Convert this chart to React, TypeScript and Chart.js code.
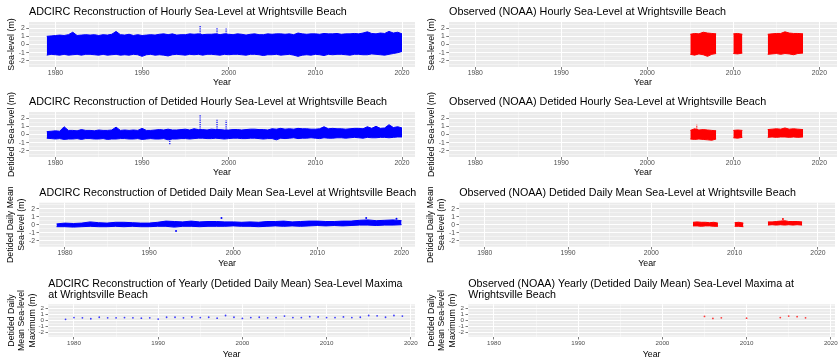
import React, { useEffect, useRef } from "react";
import { Chart, registerables } from "chart.js";
Chart.register(...registerables);

const FONT = '"Liberation Sans", Arial, Helvetica, sans-serif';
const BLUE = "#0000FF";
const RED = "#FF0000";

// ---------------- DATA ----------------
// half-year sampling of the hourly envelopes, 1979.0 .. 2020.0
const adcircHalfYears = [1979,1979.5,1980,1980.5,1981,1981.5,1982,1982.5,1983,1983.5,1984,1984.5,1985,1985.5,1986,1986.5,1987,1987.5,1988,1988.5,1989,1989.5,1990,1990.5,1991,1991.5,1992,1992.5,1993,1993.5,1994,1994.5,1995,1995.5,1996,1996.5,1997,1997.5,1998,1998.5,1999,1999.5,2000,2000.5,2001,2001.5,2002,2002.5,2003,2003.5,2004,2004.5,2005,2005.5,2006,2006.5,2007,2007.5,2008,2008.5,2009,2009.5,2010,2010.5,2011,2011.5,2012,2012.5,2013,2013.5,2014,2014.5,2015,2015.5,2016,2016.5,2017,2017.5,2018,2018.5,2019,2019.5,2020];

// hourly sea-level envelope (m)
const adcircHourlyHigh = [1.0,1.05,1.1,1.15,1.1,1.2,1.5,1.1,1.15,1.2,1.15,1.2,1.1,1.2,1.15,1.25,1.6,1.2,1.15,1.25,1.1,1.2,1.1,1.15,1.2,1.15,1.25,1.3,1.2,1.3,1.15,1.2,1.2,1.3,1.25,1.3,1.2,1.25,1.25,1.3,1.2,1.3,1.25,1.2,1.3,1.25,1.15,1.25,1.3,1.2,1.2,1.3,1.25,1.3,1.3,1.25,1.3,1.2,1.4,1.3,1.25,1.3,1.3,1.25,1.35,1.3,1.3,1.35,1.25,1.3,1.3,1.35,1.3,1.4,1.55,1.35,1.3,1.4,1.35,1.6,1.4,1.5,1.3];
const adcircHourlyLow = [-1.3,-1.2,-1.25,-1.3,-1.2,-1.3,-1.25,-1.2,-1.3,-1.2,-1.2,-1.25,-1.3,-1.2,-1.3,-1.25,-1.2,-1.3,-1.25,-1.3,-1.2,-1.25,-1.45,-1.25,-1.2,-1.3,-1.25,-1.3,-1.4,-1.25,-1.2,-1.25,-1.3,-1.2,-1.25,-1.2,-1.3,-1.2,-1.2,-1.25,-1.3,-1.2,-1.25,-1.2,-1.2,-1.25,-1.3,-1.2,-1.2,-1.25,-1.35,-1.25,-1.25,-1.2,-1.3,-1.25,-1.2,-1.3,-1.45,-1.3,-1.25,-1.3,-1.2,-1.25,-1.35,-1.2,-1.25,-1.2,-1.2,-1.25,-1.3,-1.2,-1.2,-1.25,-1.25,-1.15,-1.2,-1.25,-1.3,-1.2,-1.1,-1.0,-0.85];
const adcircHourlySpikeYears = [1996.7, 1998.65, 1999.7];
const adcircHourlySpikeBase = [1.3, 1.3, 1.3];
const adcircHourlySpikePeak = [2.35, 2.05, 1.95];

// detided hourly envelope (m)
const adcircDetidedHigh = [0.35,0.4,0.45,0.4,0.95,0.5,0.5,0.45,0.6,0.5,0.5,0.45,0.55,0.5,0.5,0.55,0.9,0.5,0.55,0.5,0.55,0.5,0.75,0.5,0.5,0.55,0.6,0.55,0.65,0.55,0.55,0.6,0.65,0.55,0.7,0.6,0.6,0.55,0.65,0.6,0.6,0.55,0.55,0.6,0.6,0.55,0.6,0.65,0.65,0.6,0.6,0.55,0.7,0.65,0.75,0.65,0.7,0.65,0.75,0.7,0.7,0.65,0.65,0.7,0.95,0.7,0.75,0.7,0.7,0.65,0.7,0.75,0.75,0.7,0.95,0.75,1.0,0.75,0.8,1.2,0.85,0.95,0.8];
const adcircDetidedLow = [-0.45,-0.5,-0.55,-0.5,-0.6,-0.55,-0.55,-0.5,-0.6,-0.5,-0.5,-0.55,-0.55,-0.5,-0.6,-0.55,-0.55,-0.5,-0.5,-0.55,-0.55,-0.5,-0.6,-0.55,-0.5,-0.55,-0.55,-0.5,-0.65,-0.55,-0.55,-0.5,-0.5,-0.55,-0.5,-0.45,-0.45,-0.5,-0.5,-0.45,-0.5,-0.55,-0.5,-0.45,-0.45,-0.5,-0.5,-0.45,-0.45,-0.5,-0.55,-0.5,-0.5,-0.65,-0.45,-0.5,-0.45,-0.4,-0.5,-0.45,-0.45,-0.4,-0.45,-0.5,-0.4,-0.45,-0.45,-0.4,-0.4,-0.45,-0.4,-0.35,-0.4,-0.45,-0.35,-0.4,-0.4,-0.35,-0.35,-0.4,-0.35,-0.3,-0.3];
const adcircDetidedSpikeYears = [1993.2, 1996.7, 1998.65, 1999.7];
const adcircDetidedSpikeBase = [-0.5, 0.6, 0.6, 0.6];
const adcircDetidedSpikePeak = [-1.25, 2.45, 1.8, 1.75];

// detided daily mean envelope (m), yearly sampling 1979 .. 2020
const adcircYears = [1979,1980,1981,1982,1983,1984,1985,1986,1987,1988,1989,1990,1991,1992,1993,1994,1995,1996,1997,1998,1999,2000,2001,2002,2003,2004,2005,2006,2007,2008,2009,2010,2011,2012,2013,2014,2015,2016,2017,2018,2019,2020];
const adcircDailyHigh = [0.1,0.2,0.15,0.2,0.35,0.25,0.2,0.3,0.3,0.25,0.2,0.2,0.3,0.45,0.4,0.35,0.45,0.35,0.4,0.4,0.35,0.35,0.3,0.35,0.3,0.4,0.4,0.45,0.35,0.4,0.45,0.45,0.4,0.4,0.45,0.45,0.55,0.6,0.5,0.55,0.6,0.5];
const adcircDailyLow = [-0.25,-0.25,-0.3,-0.25,-0.2,-0.25,-0.25,-0.2,-0.25,-0.2,-0.25,-0.25,-0.2,-0.2,-0.3,-0.2,-0.2,-0.25,-0.2,-0.2,-0.2,-0.15,-0.2,-0.2,-0.25,-0.2,-0.15,-0.2,-0.15,-0.2,-0.15,-0.1,-0.15,-0.1,-0.15,-0.1,-0.05,-0.05,-0.1,-0.05,-0.05,0.0];
const adcircDailyOutlierYears = [1993.2, 1998.6, 2015.8, 2019.4];
const adcircDailyOutlierValues = [-0.8, 0.85, 0.85, 0.75];

// yearly maxima
const adcircMaxYears = [1979,1980,1981,1982,1983,1984,1985,1986,1987,1988,1989,1990,1991,1992,1993,1994,1995,1996,1997,1998,1999,2000,2001,2002,2003,2004,2005,2006,2007,2008,2009,2010,2011,2012,2013,2014,2015,2016,2017,2018,2019];
const adcircMaxValues = [0.2,0.5,0.45,0.3,0.55,0.45,0.45,0.5,0.45,0.4,0.45,0.25,0.55,0.55,0.45,0.6,0.5,0.55,0.4,0.85,0.55,0.35,0.5,0.55,0.45,0.5,0.75,0.5,0.5,0.65,0.6,0.5,0.5,0.6,0.5,0.55,0.85,0.8,0.55,0.85,0.75];

// NOAA observations (null = gap between record segments)
const noaaYears = [2005,2005.5,2006,2006.5,2007,2007.5,2008,null,2010,2010.5,2011.05,null,2014,2014.5,2015,2015.5,2016,2016.5,2017,2017.5,2018.1];
const noaaHourlyHigh = [1.25,1.35,1.3,1.5,1.4,1.35,1.3,null,1.3,1.35,1.25,null,1.25,1.3,1.35,1.35,1.55,1.4,1.35,1.35,1.3];
const noaaHourlyLow = [-1.2,-1.3,-1.15,-1.25,-1.45,-1.2,-1.1,null,-1.1,-1.15,-1.05,null,-1.2,-1.15,-1.1,-1.2,-1.1,-1.15,-1.25,-1.1,-1.05];
const noaaDetidedHigh = [0.5,0.7,0.55,0.6,0.55,0.5,0.45,null,0.5,0.55,0.5,null,0.6,0.65,0.7,0.65,0.8,0.65,0.7,0.65,0.6];
const noaaDetidedLow = [-0.55,-0.6,-0.55,-0.6,-0.65,-0.7,-0.55,null,-0.4,-0.45,-0.35,null,-0.35,-0.3,-0.35,-0.3,-0.3,-0.35,-0.3,-0.35,-0.3];
const noaaDetidedSpikeYears = [2005.75];
const noaaDetidedSpikeBase = [0.6];
const noaaDetidedSpikePeak = [1.2];
const noaaDailyHigh = [0.3,0.35,0.3,0.3,0.25,0.3,0.2,null,0.25,0.3,0.2,null,0.35,0.35,0.4,0.45,0.5,0.4,0.4,0.4,0.35];
const noaaDailyLow = [-0.15,-0.15,-0.2,-0.15,-0.15,-0.2,-0.2,null,-0.2,-0.2,-0.25,null,-0.05,0,-0.05,0,-0.05,0,-0.05,0,-0.05];
const noaaDailyOutlierYears = [2015.8];
const noaaDailyOutlierValues = [0.7];
const noaaMaxYears = [2005, 2006, 2007, 2010, 2014, 2015, 2016, 2017];
const noaaMaxValues = [0.7, 0.35, 0.45, 0.4, 0.5, 0.75, 0.65, 0.45];

// axis ticks
const xTickValues = [1980, 1985, 1990, 1995, 2000, 2005, 2010, 2015, 2020];
const xLabelValues = [1980, 1990, 2000, 2010, 2020];
const yTickValues = [-2.5, -2, -1.5, -1, -0.5, 0, 0.5, 1, 1.5, 2, 2.5];
const yLabelValues = [-2, -1, 0, 1, 2];
const yMin = -2.75;
const yMax = 2.75;
const xMin = 1976.95;

// ---------------- DATASET BUILDERS ----------------
function band(xs: (number | null)[], hi: (number | null)[], lo: (number | null)[], color: string) {
  const out: any[] = [];
  let seg: number[] = [];
  const flush = () => {
    if (!seg.length) return;
    out.push({
      data: seg.map((i) => ({ x: xs[i], y: hi[i] })),
      borderColor: color, borderWidth: 1, pointRadius: 0, fill: false, tension: 0,
    });
    out.push({
      data: seg.map((i) => ({ x: xs[i], y: lo[i] })),
      borderColor: color, borderWidth: 1, pointRadius: 0, fill: "-1", backgroundColor: color, tension: 0,
    });
    seg = [];
  };
  xs.forEach((x, i) => {
    if (x === null || hi[i] === null) flush();
    else seg.push(i);
  });
  flush();
  return out;
}

function spikes(xs: number[], base: number[], peak: number[], color: string) {
  return xs.map((x, i) => ({
    data: [{ x, y: base[i] }, { x, y: peak[i] }],
    borderColor: color, borderWidth: 1.2, borderDash: [1.2, 1], pointRadius: 0, fill: false,
  }));
}

function points(xs: number[], ys: number[], color: string, r: number) {
  return [{
    data: xs.map((x, i) => ({ x, y: ys[i] })),
    showLine: false, pointRadius: r, pointBackgroundColor: color, pointBorderWidth: 0, borderColor: color,
  }];
}

// ---------------- PANELS ----------------
type Spec = {
  x: number; y: number; w: number; h: number;
  l: number; t: number; r: number; b: number;
  xMax: number;
  title: string[]; titleBase: number[]; titleSize: number;
  yTitle: string[]; yTitleX: number[];
  xTitleY: number;
  tickSize: number; xTickPad: number;
  datasets: () => any[];
};

const TITLE_HOURLY = "Sea-level (m)";

const panels: Spec[] = [
  {
    x: 0, y: 0, w: 420, h: 90, l: 29, t: 22, r: 415, b: 67, xMax: 2021.5,
    title: ["ADCIRC Reconstruction of Hourly Sea-Level at Wrightsville Beach"], titleBase: [14.8], titleSize: 10.8,
    yTitle: [TITLE_HOURLY], yTitleX: [12], xTitleY: 82.7, tickSize: 6.8, xTickPad: 0,
    datasets: () => [...band(adcircHalfYears, adcircHourlyHigh, adcircHourlyLow, BLUE), ...spikes(adcircHourlySpikeYears, adcircHourlySpikeBase, adcircHourlySpikePeak, BLUE)],
  },
  {
    x: 420, y: 0, w: 419, h: 90, l: 29, t: 22, r: 417, b: 67, xMax: 2022.05,
    title: ["Observed (NOAA) Hourly Sea-Level at Wrightsville Beach"], titleBase: [14.8], titleSize: 10.8,
    yTitle: [TITLE_HOURLY], yTitleX: [12], xTitleY: 82.7, tickSize: 6.8, xTickPad: 0,
    datasets: () => band(noaaYears, noaaHourlyHigh, noaaHourlyLow, RED),
  },
  {
    x: 0, y: 90, w: 420, h: 90, l: 29, t: 22, r: 415, b: 67, xMax: 2021.5,
    title: ["ADCIRC Reconstruction of Detided Hourly Sea-Level at Wrightsville Beach"], titleBase: [14.8], titleSize: 10.8,
    yTitle: ["Detided Sea-level (m)"], yTitleX: [12], xTitleY: 82.7, tickSize: 6.8, xTickPad: 0,
    datasets: () => [...band(adcircHalfYears, adcircDetidedHigh, adcircDetidedLow, BLUE), ...spikes(adcircDetidedSpikeYears, adcircDetidedSpikeBase, adcircDetidedSpikePeak, BLUE)],
  },
  {
    x: 420, y: 90, w: 419, h: 90, l: 29, t: 22, r: 417, b: 67, xMax: 2022.05,
    title: ["Observed (NOAA) Detided Hourly Sea-Level at Wrightsville Beach"], titleBase: [14.8], titleSize: 10.8,
    yTitle: ["Detided Sea-level (m)"], yTitleX: [12], xTitleY: 82.7, tickSize: 6.8, xTickPad: 0,
    datasets: () => [...band(noaaYears, noaaDetidedHigh, noaaDetidedLow, RED), ...spikes(noaaDetidedSpikeYears, noaaDetidedSpikeBase, noaaDetidedSpikePeak, RED)],
  },
  {
    x: 0, y: 180, w: 420, h: 90, l: 39.3, t: 22.7, r: 415, b: 66.7, xMax: 2021.6,
    title: ["ADCIRC Reconstruction of Detided Daily Mean Sea-Level at Wrightsville Beach"], titleBase: [15.8], titleSize: 10.7,
    yTitle: ["Detided Daily Mean", "Sea-level (m)"], yTitleX: [10.5, 21.5], xTitleY: 83.5, tickSize: 6.8, xTickPad: 0.5,
    datasets: () => [...band(adcircYears, adcircDailyHigh, adcircDailyLow, BLUE), ...points(adcircDailyOutlierYears, adcircDailyOutlierValues, BLUE, 1)],
  },
  {
    x: 420, y: 180, w: 419, h: 90, l: 39.3, t: 22.7, r: 417, b: 66.7, xMax: 2022.05,
    title: ["Observed (NOAA) Detided Daily Mean Sea-Level at Wrightsville Beach"], titleBase: [15.8], titleSize: 10.7,
    yTitle: ["Detided Daily Mean", "Sea-level (m)"], yTitleX: [10.5, 21.5], xTitleY: 83.5, tickSize: 6.8, xTickPad: 0.5,
    datasets: () => [...band(noaaYears, noaaDailyHigh, noaaDailyLow, RED), ...points(noaaDailyOutlierYears, noaaDailyOutlierValues, RED, 1)],
  },
  {
    x: 0, y: 270, w: 420, h: 88, l: 48.3, t: 34.3, r: 415, b: 66.7, xMax: 2020.5,
    title: ["ADCIRC Reconstruction of Yearly (Detided Daily Mean) Sea-Level Maxima", "at Wrightsville Beach"], titleBase: [16.8, 27.8], titleSize: 10.7,
    yTitle: ["Detided Daily", "Mean Sea-level", "Maximum (m)"], yTitleX: [11.5, 22, 32.5], xTitleY: 84.3, tickSize: 6.2, xTickPad: 1,
    datasets: () => points(adcircMaxYears, adcircMaxValues, "rgba(0,0,255,0.75)", 0.9),
  },
  {
    x: 420, y: 270, w: 419, h: 88, l: 48.3, t: 34.3, r: 417, b: 66.7, xMax: 2020.5,
    title: ["Observed (NOAA) Yearly (Detided Daily Mean) Sea-Level Maxima at", "Wrightsville Beach"], titleBase: [16.8, 27.8], titleSize: 10.7,
    yTitle: ["Detided Daily", "Mean Sea-level", "Maximum (m)"], yTitleX: [11.5, 22, 32.5], xTitleY: 84.3, tickSize: 6.2, xTickPad: 1,
    datasets: () => points(noaaMaxYears, noaaMaxValues, "rgba(255,0,0,0.75)", 0.9),
  },
];

const decorPlugin = {
  id: "decor",
  beforeDraw(chart: any) {
    const { ctx, chartArea: a } = chart;
    ctx.save();
    ctx.fillStyle = "#EBEBEB";
    ctx.fillRect(a.left, a.top, a.right - a.left, a.bottom - a.top);
    ctx.restore();
  },
  afterDraw(chart: any) {
    const spec: Spec = chart.config.options._spec;
    const { ctx, chartArea: a } = chart;
    ctx.save();
    ctx.fillStyle = "#000000";
    ctx.font = `${spec.titleSize}px ${FONT}`;
    ctx.textAlign = "left";
    ctx.textBaseline = "alphabetic";
    spec.title.forEach((t, i) => ctx.fillText(t, a.left, spec.titleBase[i]));
    ctx.font = `8.8px ${FONT}`;
    ctx.textAlign = "center";
    ctx.textBaseline = "middle";
    spec.yTitle.forEach((t, i) => {
      ctx.save();
      ctx.translate(spec.yTitleX[i], (a.top + a.bottom) / 2);
      ctx.rotate(-Math.PI / 2);
      ctx.fillText(t, 0, 0);
      ctx.restore();
    });
    ctx.fillText("Year", (a.left + a.right) / 2, spec.xTitleY);
    ctx.restore();
  },
};

function makeOptions(spec: Spec): any {
  const majorX = (v: number) => xLabelValues.includes(v);
  const majorY = (v: number) => yLabelValues.includes(v);
  return {
    _spec: spec,
    animation: false,
    responsive: false,
    devicePixelRatio: 1,
    events: [],
    layout: { padding: { left: 0, top: spec.t, right: spec.w - spec.r, bottom: 0 } },
    plugins: { legend: { display: false }, tooltip: { enabled: false }, title: { display: false } },
    scales: {
      x: {
        type: "linear",
        min: xMin,
        max: spec.xMax,
        afterBuildTicks: (s: any) => {
          s.ticks = xTickValues.filter((v) => v >= xMin && v <= spec.xMax).map((v) => ({ value: v }));
        },
        afterFit: (s: any) => {
          s.height = spec.h - spec.b;
          s.paddingLeft = 0;
          s.paddingRight = 0;
        },
        border: { display: false },
        grid: {
          color: (c: any) => (majorX(c.tick?.value) ? "#FFFFFF" : "rgba(255,255,255,0.8)"),
          lineWidth: (c: any) => (majorX(c.tick?.value) ? 1 : 0.5),
          tickColor: (c: any) => (majorX(c.tick?.value) ? "#444444" : "rgba(0,0,0,0)"),
          tickLength: 2.75,
          tickWidth: 0.7,
        },
        ticks: {
          autoSkip: false,
          maxRotation: 0,
          minRotation: 0,
          padding: spec.xTickPad,
          color: "#4D4D4D",
          font: { family: FONT, size: spec.tickSize, lineHeight: 1 },
          callback: (v: number) => (majorX(v) ? String(v) : ""),
        },
      },
      y: {
        type: "linear",
        min: yMin,
        max: yMax,
        afterBuildTicks: (s: any) => {
          s.ticks = yTickValues.map((v) => ({ value: v }));
        },
        afterFit: (s: any) => {
          s.width = spec.l;
          s.paddingTop = 0;
          s.paddingBottom = 0;
        },
        border: { display: false },
        grid: {
          color: (c: any) => (majorY(c.tick?.value) ? "#FFFFFF" : "rgba(255,255,255,0.8)"),
          lineWidth: (c: any) => (majorY(c.tick?.value) ? 1 : 0.5),
          tickColor: (c: any) => (majorY(c.tick?.value) ? "#444444" : "rgba(0,0,0,0)"),
          tickLength: 2.75,
          tickWidth: 0.7,
        },
        ticks: {
          autoSkip: false,
          padding: 1.5,
          color: "#4D4D4D",
          font: { family: FONT, size: spec.tickSize, lineHeight: 1 },
          callback: (v: number) => (majorY(v) ? String(v) : ""),
        },
      },
    },
  };
}

function Panel({ spec }: { spec: Spec }) {
  const ref = useRef<HTMLCanvasElement>(null);
  useEffect(() => {
    if (!ref.current) return;
    const chart = new Chart(ref.current, {
      type: "line",
      data: { datasets: spec.datasets() },
      options: makeOptions(spec),
      plugins: [decorPlugin],
    } as any);
    return () => chart.destroy();
  }, [spec]);
  return (
    <canvas
      ref={ref}
      width={spec.w}
      height={spec.h}
      style={{ position: "absolute", left: spec.x, top: spec.y, width: spec.w, height: spec.h }}
    />
  );
}

export default function App() {
  useEffect(() => {
    document.body.style.margin = "0";
    document.body.style.background = "#FFFFFF";
  }, []);
  return (
    <div style={{ position: "absolute", left: 0, top: 0, width: 839, height: 358, background: "#FFFFFF", overflow: "hidden" }}>
      {panels.map((p, i) => (
        <Panel key={i} spec={p} />
      ))}
    </div>
  );
}
